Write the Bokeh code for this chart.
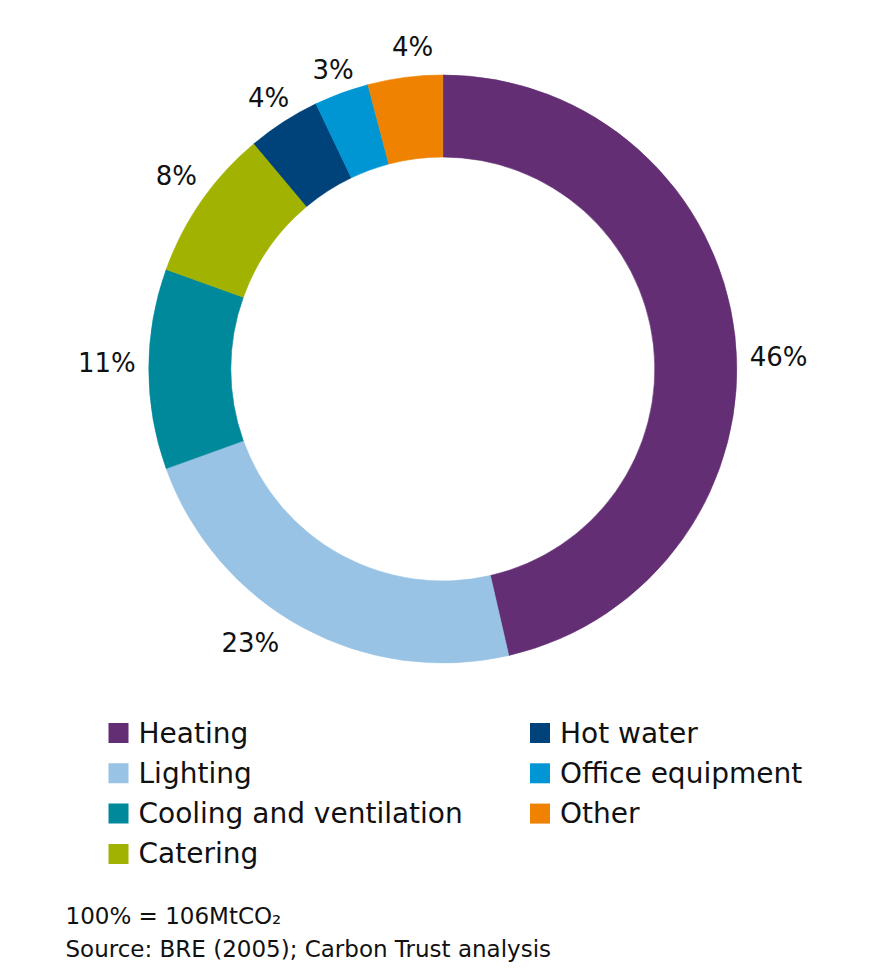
import math
from bokeh.plotting import figure
from bokeh.models import Range1d, ColumnDataSource
from bokeh.core.properties import value
from bokeh.embed import file_html
from bokeh.resources import INLINE

# ---- data ----
categories = ["Heating", "Lighting", "Cooling and ventilation", "Catering",
              "Hot water", "Office equipment", "Other"]
shares = [46.4, 23.1, 11.0, 8.4, 4.0, 3.0, 4.1]
colors = ["#632e74", "#98c3e4", "#00899a", "#a2b200",
          "#00427a", "#0096d3", "#ef8200"]
note_line = "100% = 106MtCO₂"
source_line = "Source: BRE (2005); Carbon Trust analysis"

# ---- layout (page pixels, y downward mapped to negative data y) ----
W, H = 869, 977
CX, CY = 442.3, -368.5
R_OUT, R_IN = 294, 212
FONT = "DejaVu Sans"

p = figure(width=W, height=H, output_backend="svg", toolbar_location=None,
           x_range=Range1d(0, W), y_range=Range1d(-H, 0),
           x_axis_location=None, y_axis_location=None, min_border=0,
           outline_line_color=None, background_fill_color="white",
           border_fill_color="white")
p.grid.visible = False

total = sum(shares)
starts, ends, mids = [], [], []
cum = 0.0
for s in shares:
    a0 = cum / total * 2 * math.pi
    cum += s
    a1 = cum / total * 2 * math.pi
    starts.append(math.pi / 2 - a0)
    ends.append(math.pi / 2 - a1)
    mids.append((a0 + a1) / 2)

src = ColumnDataSource(dict(start=starts, end=ends, color=colors, cat=categories))
p.annular_wedge(x=CX, y=CY, inner_radius=R_IN, outer_radius=R_OUT,
                start_angle="start", end_angle="end", direction="clock",
                fill_color="color", line_color="color", line_width=0.6, source=src)

# percentage labels around the ring
nudge_deg = [4.5, 6.5, 1.0, 1.0, 0.0, 0.0, 2.0]
nudge_r = [0, 12, 0, 0, 0, 0, 7]
lx, ly, lt = [], [], []
for s, m, n, dr in zip(shares, mids, nudge_deg, nudge_r):
    th = m + math.radians(n)
    r = 316 + 20 * math.sin(th) ** 2 + dr
    lx.append(CX + r * math.sin(th))
    ly.append(CY + r * math.cos(th))
    lt.append(f"{round(s)}%")
p.text(x=lx, y=ly, text=lt, text_font=value(FONT), text_font_size="26px",
       text_align="center", text_baseline="middle", text_color="#111111")

# legend: two columns
sx, sy, tx = [], [], []
for i, c in enumerate(categories):
    col = 0 if i < 4 else 1
    row = i if i < 4 else i - 4
    yc = 732.5 + row * 40.3
    x0 = 108 + col * 421.5
    sx.append(x0 + 10)
    sy.append(-yc)
    tx.append(x0 + 30)
p.rect(x=sx, y=sy, width=20, height=20, fill_color=colors, line_color=None)
p.text(x=tx, y=sy, text=categories, text_font=value(FONT), text_font_size="28px",
       text_align="left", text_baseline="middle", text_color="#111111")

# footnotes
p.text(x=[65, 65], y=[-915, -948], text=[note_line, source_line],
       text_font=value(FONT), text_font_size="23px", text_align="left",
       text_baseline="middle", text_color="#111111")

open("out.html", "w").write(file_html(p, INLINE))
